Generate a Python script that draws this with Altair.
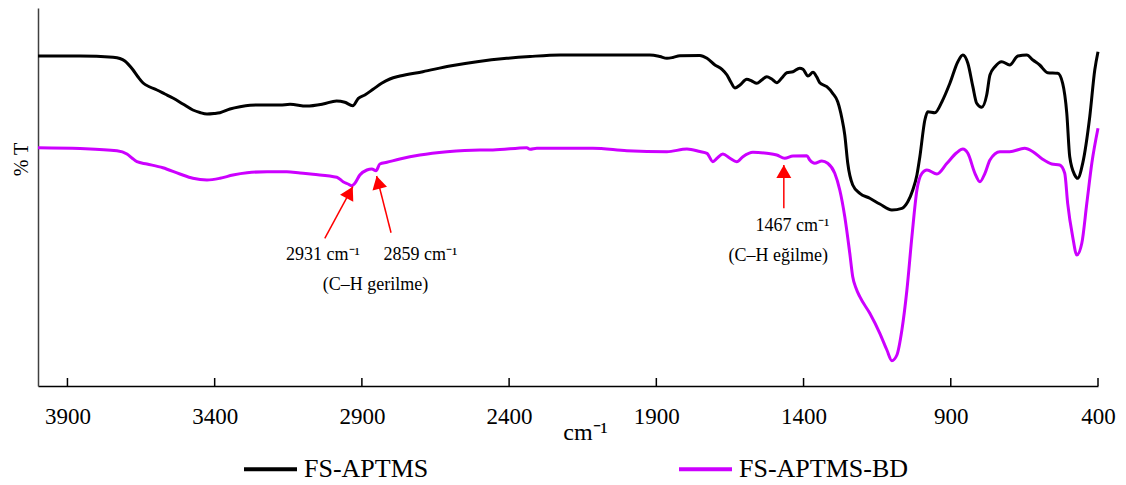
import altair as alt
import pandas as pd

FONT = "Liberation Serif"

# FS-APTMS spectrum (wavenumber cm-1, transmittance in arbitrary units)
WN_A = [4000, 3857, 3745, 3722, 3705, 3677, 3660, 3643, 3620, 3596, 3569, 3542, 3508, 3474,
        3450, 3426, 3402, 3382, 3348, 3314, 3280, 3246, 3178, 3144, 3088, 3032, 2986, 2958,
        2931, 2912, 2890, 2862, 2833, 2805, 2771, 2693, 2601, 2509, 2408, 2329, 2227, 2048,
        1922, 1888, 1864, 1844, 1820, 1752, 1728, 1701, 1677, 1660, 1647, 1633, 1616, 1593,
        1576, 1559, 1542, 1525, 1508, 1491, 1474, 1457, 1436, 1413, 1402, 1385, 1368, 1355,
        1345, 1321, 1301, 1284, 1270, 1260, 1250, 1233, 1209, 1175, 1141, 1100, 1066, 1046,
        1029, 1015, 1005, 988, 978, 954, 930, 903, 876, 859, 842, 825, 812, 795, 778, 767,
        750, 727, 700, 672, 642, 621, 598, 571, 537, 520, 506, 496, 479, 469, 452, 428, 411, 400]
T_A = [330, 330, 328.7, 327.5, 325, 316, 309, 303, 299, 296, 292, 288, 282, 276,
       273.5, 272, 272.5, 273.3, 277, 279.3, 280.7, 281, 281, 281.7, 280, 282, 285, 283.7,
       280.3, 287.7, 291, 296.7, 302.7, 307, 310, 314.3, 320, 324.3, 327.7, 329.5, 331, 331,
       331, 329.5, 327.7, 328.5, 330.3, 330.5, 327.7, 321, 316.7, 311, 304, 298, 301, 306.7,
       305, 302.7, 306, 309.3, 307, 303.3, 308, 313.3, 314.3, 317.7, 316.7, 310, 313.7, 309,
       303.3, 299.3, 292.7, 284.3, 268, 251, 223, 201, 192.7, 187.7, 182, 176, 177.7, 184.3,
       196, 211, 229.3, 266, 274.3, 273.3, 284.3, 302.7, 324.3, 331, 322.7, 299.3, 282.7, 278.7, 291, 311,
       319.3, 324.3, 321, 330, 331, 326, 321, 313.3, 312.7, 302.7, 272.7, 229.3, 211, 207.7, 222.7, 269.3, 316, 334.3]

# FS-APTMS-BD spectrum
WN_B = [4000, 3857, 3732, 3698, 3681, 3664, 3630, 3576, 3518, 3474, 3426, 3382, 3338, 3290,
        3222, 3155, 3110, 3066, 2985, 2964, 2947, 2934, 2924, 2907, 2883, 2866, 2852, 2839,
        2815, 2771, 2703, 2611, 2499, 2455, 2340, 2329, 2306, 2116, 2000, 1864, 1796, 1752,
        1728, 1708, 1694, 1674, 1650, 1627, 1606, 1572, 1525, 1491, 1464, 1436, 1389, 1379,
        1362, 1338, 1318, 1294, 1277, 1260, 1243, 1233, 1222, 1209, 1175, 1141, 1117, 1100,
        1083, 1066, 1049, 1032, 1015, 998, 981, 947, 913, 880, 859, 842, 818, 801, 784, 767,
        733, 700, 649, 621, 588, 557, 530, 513, 503, 486, 472, 455, 438, 421, 400]
T_B = [238.3, 237.5, 235.3, 232, 228, 224.3, 222, 218.3, 212, 207.7, 206, 207.7, 211, 213.3,
       214.3, 214.3, 213, 211.7, 208.7, 204.3, 202, 200.3, 202.7, 211, 216, 217, 215.3, 222,
       223.7, 227, 231, 234.3, 236, 236, 238.3, 236.7, 237.7, 237.7, 235.3, 234.3, 237, 234.5,
       232.7, 224.3, 227.7, 232, 227.7, 224.3, 229.3, 233.7, 232.7, 231, 227.7, 230, 230.3, 226,
       222.7, 225, 222.7, 212.7, 196, 169.3, 132.7, 109.3, 98, 89.3, 72.7, 52.7, 36, 25.3,
       31, 56, 96, 149.3, 196, 212.7, 216, 212, 222.7, 233.3, 237, 232.7, 212.7, 204.3, 212.7, 226,
       234.3, 234.3, 237.7, 234.3, 226.7, 222, 221, 212.7, 182.7, 149.3, 131, 142.7, 182.7, 222.7, 257.7]

SERIES = ["FS-APTMS", "FS-APTMS-BD"]
COLORS = ["#000000", "#CC00FF"]
X_TICKS = [3900, 3400, 2900, 2400, 1900, 1400, 900, 400]

ARROW_TAIL_WN = [3026, 2801, 1467]
ARROW_TAIL_T = [147.7, 153.3, 177.7]
ARROW_TIP_WN = [2931, 2850, 1467]
ARROW_TIP_T = [199.3, 210, 221]
ARROW_ANGLE = [28, 346, 0]

LABEL_TEXT = ["2931 cm\u207b\u00b9", "2859 cm\u207b\u00b9", "(C\u2013H gerilme)",
              "1467 cm\u207b\u00b9", "(C\u2013H e\u011filme)"]
LABEL_WN = [3032, 2701, 2854, 1438, 1486]
LABEL_T = [126, 126, 96, 155, 125.3]

rows = []
for s, wns, ts in [(SERIES[0], WN_A, T_A), (SERIES[1], WN_B, T_B)]:
    for i, (w, t) in enumerate(zip(wns, ts)):
        rows.append({"series": s, "wn": w, "t": t, "i": i})
spec_df = pd.DataFrame(rows)

ticks_df = pd.DataFrame({"tick": X_TICKS})
arrow_df = pd.DataFrame({"tail_wn": ARROW_TAIL_WN, "tail_t": ARROW_TAIL_T,
                         "tip_wn": ARROW_TIP_WN, "tip_t": ARROW_TIP_T, "ang": ARROW_ANGLE})
label_df = pd.DataFrame({"label": LABEL_TEXT, "lwn": LABEL_WN, "lt": LABEL_T})

xs = alt.Scale(domain=[400, 4000], reverse=True, nice=False, zero=False)
ys = alt.Scale(domain=[0, 378], nice=False, zero=False)

x_axis = alt.Axis(
    values=X_TICKS, format="d", ticks=False, tickSize=0, grid=False,
    domainColor="black", domainWidth=1.5,
    labelFont=FONT, labelFontSize=23, labelColor="black", labelPadding=19,
    labelFlush=False, labelOverlap=False,
    title="cm\u207b\u00b9", titleFont=FONT, titleFontSize=24, titleFontWeight="normal",
    titleColor="black", titleX=547, titleY=53, titleBaseline="alphabetic", titleAlign="center")
y_axis = alt.Axis(
    labels=False, ticks=False, grid=False, domainColor="#404040", domainWidth=1.5,
    title="% T", titleFont=FONT, titleFontSize=20, titleFontWeight="normal", titleColor="black",
    titleAngle=270, titleX=-17, titleY=151, titleAlign="center", titleBaseline="middle")

lines = alt.Chart(spec_df).mark_line(strokeWidth=3, interpolate="monotone").encode(
    x=alt.X("wn:Q", scale=xs, axis=x_axis, title="cm\u207b\u00b9"),
    y=alt.Y("t:Q", scale=ys, axis=y_axis, title="% T"),
    color=alt.Color("series:N", scale=alt.Scale(domain=SERIES, range=COLORS), legend=alt.Legend(
        orient="none", legendX=204, legendY=432.5, direction="horizontal", title=None,
        symbolType="stroke", symbolSize=2809, symbolStrokeWidth=4,
        labelFont=FONT, labelFontSize=26, labelColor="black", labelOffset=5, labelLimit=400,
        columnPadding=242, padding=0)),
    order=alt.Order("i:Q"),
)

# inward-pointing axis ticks
ticks = alt.Chart(ticks_df).mark_rule(color="black", strokeWidth=1.5).encode(
    x=alt.X("tick:Q", scale=xs, axis=None),
    y=alt.value(370), y2=alt.value(378),
)

arrow_lines = alt.Chart(arrow_df).mark_rule(color="#FF0000", strokeWidth=1.5).encode(
    x=alt.X("tail_wn:Q", scale=xs, axis=None),
    y=alt.Y("tail_t:Q", scale=ys, axis=None),
    x2="tip_wn:Q", y2="tip_t:Q",
)

arrow_heads = alt.Chart(arrow_df).mark_point(
    shape="M0,0L-1.15,2L1.15,2Z", filled=True, size=169, color="#FF0000", opacity=1, strokeWidth=0
).encode(
    x=alt.X("tip_wn:Q", scale=xs, axis=None),
    y=alt.Y("tip_t:Q", scale=ys, axis=None),
    angle=alt.Angle("ang:Q", scale=None),
)

labels = alt.Chart(label_df).mark_text(
    font=FONT, fontSize=18, color="black", baseline="alphabetic", align="center"
).encode(
    x=alt.X("lwn:Q", scale=xs, axis=None),
    y=alt.Y("lt:Q", scale=ys, axis=None),
    text="label:N",
)

chart = alt.layer(lines, ticks, arrow_lines, arrow_heads, labels).resolve_axis(
    x="independent", y="independent"
).properties(
    width=1060, height=378,
    autosize=alt.AutoSizeParams(type="none"),
    padding={"left": 30, "top": 0, "right": 20, "bottom": 96},
).configure_view(stroke=None)

chart.save("out.html", embed_options={"renderer": "svg", "actions": False})
